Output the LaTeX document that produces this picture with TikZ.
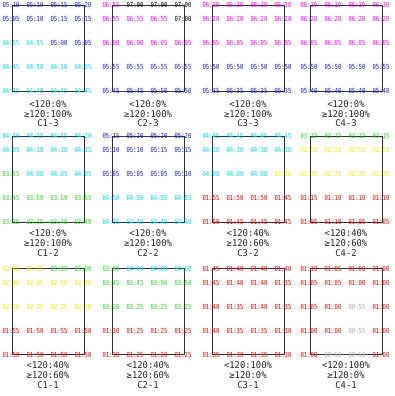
\documentclass[tikz,border=0pt]{standalone}
\usepackage{fontspec}
\newfontfamily\numfont[FakeStretch=0.8]{DejaVu Sans Mono}
\newfontfamily\labfont[FakeStretch=0.95]{DejaVu Sans Mono}
\definecolor{cb}{RGB}{25,25,225}
\definecolor{cc}{RGB}{0,215,235}
\definecolor{cm}{RGB}{240,0,240}
\definecolor{cg}{RGB}{40,215,40}
\definecolor{cy}{RGB}{235,235,0}
\definecolor{cr}{RGB}{240,0,0}
\definecolor{cs}{RGB}{170,170,170}
\definecolor{ck}{RGB}{0,0,0}
\tikzset{
  num/.style={font=\numfont\fontsize{7}{7}\selectfont, inner sep=0pt, anchor=center},
  lab/.style={font=\labfont\fontsize{9.3}{9.3}\selectfont, inner sep=0pt, text=black!85},
  pbox/.style={draw=black!80, line width=0.8pt, minimum width=72pt, minimum height=86pt, inner sep=0pt}
}
\newcommand\panelA[6]{%
  \def\pn{#1}\def\pnx{#2}\def\pny{#3}%
  \node[pbox] (#1) at (#2+36,#3+43) {};
  \node[lab] (#1-a) at (#2+36,\la) {#4};
  \node[lab] (#1-b) at (#2+36,\lb) {#5};
  \node[lab] (#1-c) at (#2+36,\lc) {#6};
}
\newcommand\rowc[9]{%
  \pgfmathsetmacro\yy{{0,14,38,62,86}[#1]}%
  \pgfmathsetmacro\yy{\pny+\yy}%
  \node[num,text=#2] (\pn-#1-0) at (\pnx-1,\yy) {#3};
  \node[num,text=#4] (\pn-#1-1) at (\pnx+23,\yy) {#5};
  \node[num,text=#6] (\pn-#1-2) at (\pnx+47,\yy) {#7};
  \node[num,text=#8] (\pn-#1-3) at (\pnx+71,\yy) {#9};
}
\begin{document}
\begin{tikzpicture}[x=1pt,y=-1pt]
\fill[white] (0,0) rectangle (394,396);
\useasboundingbox (0,0) rectangle (394,396);
% ---------- row 3 (top) ----------
\def\la{104}\def\lb{113.7}\def\lc{123.4}
\panelA{p13}{12}{5}{<120:0\%}{≥120:100\%}{C1-3}
\rowc{0}{cb}{05:10}{cb}{05:10}{cb}{05:15}{cb}{05:20}
\rowc{1}{cb}{05:05}{cb}{05:10}{cb}{05:15}{cb}{05:15}
\rowc{2}{cc}{04:55}{cc}{04:55}{cb}{05:00}{cb}{05:05}
\rowc{3}{cc}{04:45}{cc}{04:50}{cc}{04:50}{cc}{04:55}
\rowc{4}{cc}{04:35}{cc}{04:40}{cc}{04:45}{cc}{04:45}
\panelA{p23}{112}{5}{<120:0\%}{≥120:100\%}{C2-3}
\rowc{0}{cm}{06:55}{ck}{07:00}{ck}{07:00}{ck}{07:00}
\rowc{1}{cm}{06:55}{cm}{06:55}{cm}{06:55}{ck}{07:00}
\rowc{2}{cm}{06:00}{cm}{06:00}{cm}{06:05}{cm}{06:05}
\rowc{3}{cb}{05:55}{cb}{05:55}{cb}{05:55}{cb}{05:55}
\rowc{4}{cb}{05:45}{cb}{05:45}{cb}{05:50}{cb}{05:50}
\panelA{p33}{212}{5}{<120:0\%}{≥120:100\%}{C3-3}
\rowc{0}{cm}{06:30}{cm}{06:30}{cm}{06:30}{cm}{06:30}
\rowc{1}{cm}{06:20}{cm}{06:20}{cm}{06:20}{cm}{06:20}
\rowc{2}{cm}{06:05}{cm}{06:05}{cm}{06:05}{cm}{06:05}
\rowc{3}{cb}{05:50}{cb}{05:50}{cb}{05:50}{cb}{05:50}
\rowc{4}{cb}{05:35}{cb}{05:35}{cb}{05:35}{cb}{05:35}
\panelA{p43}{310}{5}{<120:0\%}{≥120:100\%}{C4-3}
\rowc{0}{cm}{06:30}{cm}{06:30}{cm}{06:30}{cm}{06:30}
\rowc{1}{cm}{06:20}{cm}{06:20}{cm}{06:20}{cm}{06:20}
\rowc{2}{cm}{06:05}{cm}{06:05}{cm}{06:05}{cm}{06:05}
\rowc{3}{cb}{05:50}{cb}{05:50}{cb}{05:50}{cb}{05:55}
\rowc{4}{cb}{05:40}{cb}{05:40}{cb}{05:40}{cb}{05:40}
% ---------- row 2 ----------
\def\la{233.5}\def\lb{243.5}\def\lc{253.5}
\panelA{p12}{12}{136}{<120:0\%}{≥120:100\%}{C1-2}
\rowc{0}{cc}{04:10}{cc}{04:15}{cc}{04:15}{cc}{04:20}
\rowc{1}{cc}{04:05}{cc}{04:10}{cc}{04:10}{cc}{04:15}
\rowc{2}{cg}{03:55}{cc}{04:00}{cc}{04:05}{cc}{04:05}
\rowc{3}{cg}{03:45}{cg}{03:50}{cg}{03:50}{cg}{03:55}
\rowc{4}{cg}{03:35}{cg}{03:35}{cg}{03:40}{cg}{03:40}
\panelA{p22}{112}{136}{<120:0\%}{≥120:100\%}{C2-2}
\rowc{0}{cb}{05:15}{cb}{05:20}{cb}{05:20}{cb}{05:20}
\rowc{1}{cb}{05:10}{cb}{05:10}{cb}{05:15}{cb}{05:15}
\rowc{2}{cb}{05:05}{cb}{05:05}{cb}{05:05}{cb}{05:10}
\rowc{3}{cc}{04:50}{cc}{04:50}{cc}{04:55}{cc}{04:55}
\rowc{4}{cc}{04:35}{cc}{04:40}{cc}{04:40}{cc}{04:40}
\panelA{p32}{212}{136}{<120:40\%}{≥120:60\%}{C3-2}
\rowc{0}{cc}{04:45}{cc}{04:45}{cc}{04:45}{cc}{04:45}
\rowc{1}{cc}{04:30}{cc}{04:30}{cc}{04:30}{cc}{04:30}
\rowc{2}{cc}{04:00}{cc}{04:00}{cc}{04:00}{cy}{02:50}
\rowc{3}{cr}{01:55}{cr}{01:50}{cr}{01:50}{cr}{01:45}
\rowc{4}{cr}{01:50}{cr}{01:45}{cr}{01:45}{cr}{01:45}
\panelA{p42}{310}{136}{<120:40\%}{≥120:60\%}{C4-2}
\rowc{0}{cg}{03:15}{cg}{03:15}{cg}{03:15}{cg}{03:15}
\rowc{1}{cy}{02:55}{cy}{02:55}{cy}{02:55}{cy}{02:55}
\rowc{2}{cy}{02:35}{cy}{02:35}{cy}{02:35}{cy}{02:35}
\rowc{3}{cr}{01:15}{cr}{01:10}{cr}{01:10}{cr}{01:10}
\rowc{4}{cr}{01:05}{cr}{01:10}{cr}{01:05}{cr}{01:05}
% ---------- row 1 (bottom) ----------
\def\la{365}\def\lb{375}\def\lc{385}
\panelA{p11}{12}{268.5}{<120:40\%}{≥120:60\%}{C1-1}
\rowc{0}{cy}{02:55}{cy}{02:55}{cg}{03:00}{cg}{03:00}
\rowc{1}{cy}{02:40}{cy}{02:45}{cy}{02:50}{cy}{02:50}
\rowc{2}{cy}{02:20}{cy}{02:25}{cy}{02:25}{cy}{02:30}
\rowc{3}{cr}{01:55}{cr}{01:50}{cr}{01:55}{cr}{01:50}
\rowc{4}{cr}{01:50}{cr}{01:50}{cr}{01:50}{cr}{01:50}
\panelA{p21}{112}{268.5}{<120:40\%}{≥120:60\%}{C2-1}
\rowc{0}{cg}{03:55}{cc}{04:00}{cc}{04:00}{cc}{04:00}
\rowc{1}{cg}{03:45}{cg}{03:45}{cg}{03:50}{cg}{03:50}
\rowc{2}{cg}{03:20}{cg}{03:25}{cg}{03:25}{cg}{03:25}
\rowc{3}{cr}{01:30}{cr}{01:25}{cr}{01:25}{cr}{01:25}
\rowc{4}{cr}{01:30}{cr}{01:25}{cr}{01:20}{cr}{01:25}
\panelA{p31}{212}{268.5}{<120:100\%}{≥120:0\%}{C3-1}
\rowc{0}{cr}{01:45}{cr}{01:40}{cr}{01:40}{cr}{01:40}
\rowc{1}{cr}{01:45}{cr}{01:40}{cr}{01:40}{cr}{01:35}
\rowc{2}{cr}{01:40}{cr}{01:35}{cr}{01:40}{cr}{01:35}
\rowc{3}{cr}{01:40}{cr}{01:35}{cr}{01:35}{cr}{01:30}
\rowc{4}{cr}{01:35}{cr}{01:30}{cr}{01:35}{cr}{01:30}
\panelA{p41}{310}{268.5}{<120:100\%}{≥120:0\%}{C4-1}
\rowc{0}{cr}{01:10}{cr}{01:05}{cr}{01:00}{cr}{01:00}
\rowc{1}{cr}{01:05}{cr}{01:05}{cr}{01:00}{cr}{01:00}
\rowc{2}{cr}{01:05}{cr}{01:00}{cs}{00:55}{cr}{01:00}
\rowc{3}{cr}{01:00}{cr}{01:00}{cs}{00:55}{cr}{01:00}
\rowc{4}{cr}{01:00}{cs}{00:55}{cs}{00:55}{cr}{01:00}
\end{tikzpicture}
\end{document}
